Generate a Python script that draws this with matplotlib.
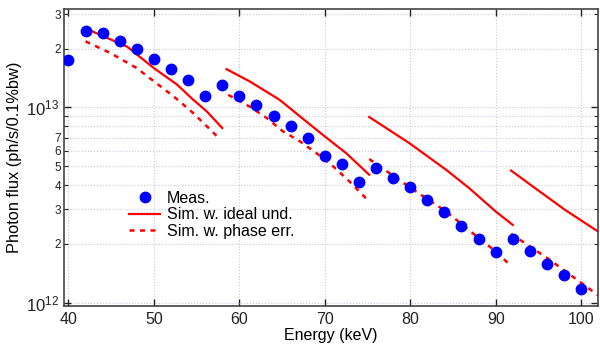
import numpy as np
import matplotlib.pyplot as plt
from matplotlib.ticker import LogLocator, FuncFormatter, MultipleLocator

plt.rcParams['font.family'] = ['Liberation Sans', 'DejaVu Sans']

# measured flux
meas_e = [40, 42, 44, 46, 48, 50, 52, 54, 56, 58, 60, 62, 64, 66, 68, 70, 72, 74,
          76, 78, 80, 82, 84, 86, 88, 90, 92, 94, 96, 98, 100]
meas_f = [1.74e13, 2.47e13, 2.40e13, 2.18e13, 2.00e13, 1.77e13, 1.58e13, 1.38e13, 1.14e13,
          1.31e13, 1.14e13, 1.03e13, 9.03e12, 8.05e12, 6.97e12, 5.63e12, 5.14e12, 4.17e12,
          4.92e12, 4.36e12, 3.89e12, 3.35e12, 2.90e12, 2.47e12, 2.11e12, 1.82e12,
          2.11e12, 1.84e12, 1.58e12, 1.38e12, 1.17e12]

# simulation, ideal undulator (one segment per harmonic)
ideal_e = [[42, 46.85, 50, 52.7, 54.6, 56.2, 58],
           [58.5, 61.2, 64.7, 67.1, 70, 72.5, 75.2],
           [75.2, 79.9, 84.2, 86.9, 90, 92],
           [91.8, 95, 98.1, 102]]
ideal_f = [[2.54e13, 2.05e13, 1.59e13, 1.31e13, 1.095e13, 9.53e12, 7.84e12],
           [1.57e13, 1.36e13, 1.095e13, 8.99e12, 7.1e12, 5.83e12, 4.52e12],
           [8.93e12, 6.56e12, 4.79e12, 3.86e12, 2.93e12, 2.50e12],
           [4.75e12, 3.75e12, 2.99e12, 2.31e12]]

# simulation with phase errors
phase_e = [[42, 44.9, 48, 50, 52.3, 54.6, 56.2, 57.7],
           [58.7, 61.2, 63.2, 65.1, 67.1, 69, 71, 72.9, 75],
           [75.2, 79.9, 84.2, 87.3, 90, 91.8],
           [91.8, 96.3, 102]]
phase_f = [[2.18e13, 1.90e13, 1.59e13, 1.36e13, 1.14e13, 9.36e12, 8.0e12, 6.89e12],
           [1.16e13, 1.01e13, 8.83e12, 7.54e12, 6.70e12, 5.84e12, 4.98e12, 4.17e12, 3.36e12],
           [5.44e12, 3.91e12, 2.93e12, 2.27e12, 1.83e12, 1.54e12],
           [2.25e12, 1.66e12, 1.09e12]]

fig = plt.figure(figsize=(6, 3.53), dpi=100)
ax = fig.add_axes([0.107, 0.133, 0.89, 0.842])

ax.plot(meas_e, meas_f, 'o', color='#0000ff', ms=7.5, zorder=3, label='Meas.')
for i in range(len(ideal_e)):
    ax.plot(ideal_e[i], ideal_f[i], '-', color='#ff0000', lw=1.6,
            label='Sim. w. ideal und.' if i == 0 else None)
for i in range(len(phase_e)):
    ax.plot(phase_e[i], phase_f[i], ':', color='#ff0000', lw=1.8, dashes=(2, 2.2),
            label='Sim. w. phase err.' if i == 0 else None)

ax.set_yscale('log')
ax.set_xlim(39.5, 102)
ax.set_ylim(9.6e11, 3.2e13)

ax.xaxis.set_major_locator(MultipleLocator(10))
ax.yaxis.set_minor_locator(LogLocator(base=10, subs=np.arange(2, 10)))


def minor_fmt(v, pos):
    m = v / 10 ** np.floor(np.log10(v) + 1e-9)
    m = int(round(m))
    return str(m) if 2 <= m <= 7 else ''


ax.yaxis.set_minor_formatter(FuncFormatter(minor_fmt))
ax.tick_params(which='both', direction='in', top=True, right=True, colors='#222222')
ax.tick_params(which='major', length=5, width=1, labelsize=12)
ax.tick_params(which='minor', length=3, width=0.8, labelsize=8.5, pad=2)
ax.tick_params(axis='x', which='major', labelsize=11.5, pad=4)

ax.grid(True, which='both', ls=':', color='#c8c8e0', lw=0.8)
ax.set_axisbelow(True)
for s in ax.spines.values():
    s.set_color('#444444')
    s.set_linewidth(1.2)

ax.set_xlabel('Energy (keV)', fontsize=11.5, labelpad=1)
ax.set_ylabel('Photon flux (ph/s/0.1%bw)', fontsize=11.8, labelpad=3)

ax.legend(loc='upper left', bbox_to_anchor=(0.11, 0.41), frameon=False,
          fontsize=11.5, handlelength=1.9, handletextpad=0.45, labelspacing=0.1,
          borderaxespad=0)

fig.savefig('out.png', dpi=100)
